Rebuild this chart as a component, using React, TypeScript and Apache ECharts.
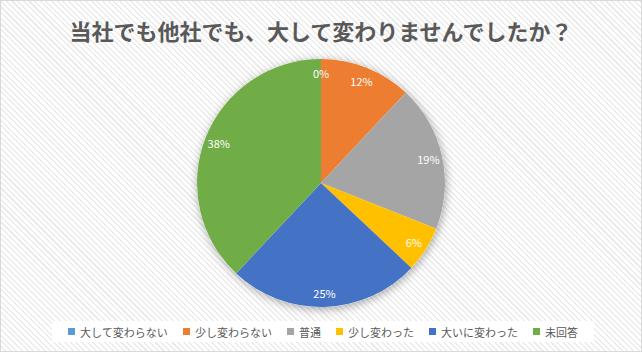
import React, { useEffect, useRef } from "react";
import * as echarts from "echarts";

const titleText = "当社でも他社でも、大して変わりませんでしたか？";
const categories = ["大して変わらない", "少し変わらない", "普通", "少し変わった", "大いに変わった", "未回答"];
const values = [0, 12, 19, 6, 25, 38];
const colors = ["#5B9BD5", "#ED7D31", "#A5A5A5", "#FFC000", "#4472C4", "#70AD47"];

const FONT = "'Noto Sans CJK JP', 'Noto Sans', sans-serif";

export default function App() {
  const ref = useRef<HTMLDivElement>(null);
  useEffect(() => {
    if (!ref.current) return;
    const chart = echarts.init(ref.current, undefined, { renderer: "svg" });
    const data = categories.map((name, i) => ({ name, value: values[i], itemStyle: { color: colors[i] } }));
    const center = ["321", "183"];
    chart.setOption({
      animation: false,
      backgroundColor: "transparent",
      title: {
        text: titleText,
        left: "center",
        top: 14,
        textStyle: { fontFamily: FONT, fontSize: 22, fontWeight: "bold", color: "#595959" },
      },
      legend: {
        data: categories,
        left: 52,
        top: 321,
        padding: [5, 16],
        backgroundColor: "#ffffff",
        itemWidth: 7,
        itemHeight: 7,
        itemGap: 15,
        icon: "rect",
        selectedMode: false,
        textStyle: { fontFamily: FONT, fontSize: 11, color: "#595959" },
      },
      series: [
        {
          type: "pie",
          name: "shadow",
          silent: true,
          center: [321, 183],
          radius: 124,
          label: { show: false },
          labelLine: { show: false },
          data: [{ name: "__bg", value: 1, itemStyle: { color: "#ffffff", shadowBlur: 10, shadowColor: "rgba(0,0,0,0.35)", shadowOffsetX: 1, shadowOffsetY: 2 } }],
          z: 1,
        },
        {
          type: "pie",
          name: "main",
          center: [321, 183],
          radius: 124,
          startAngle: 90,
          clockwise: true,
          label: { show: false },
          labelLine: { show: false },
          itemStyle: { borderWidth: 0 },
          emphasis: { disabled: true },
          data,
          z: 2,
        },
        {
          type: "pie",
          name: "labels",
          silent: true,
          center: [321, 183],
          radius: [90, 124],
          startAngle: 90,
          clockwise: true,
          itemStyle: { color: "transparent" },
          label: {
            show: true,
            position: "inside",
            formatter: (p: any) => p.value + "%",
            color: "#ffffff",
            fontFamily: FONT,
            fontSize: 11,
          },
          labelLine: { show: false },
          data: categories.map((name, i) => ({ name, value: values[i], itemStyle: { color: "transparent" } })),
          z: 3,
        },
      ],
    });
    return () => chart.dispose();
  }, []);
  return (
    <div
      style={{
        position: "fixed",
        left: 0,
        top: 0,
        width: 642,
        height: 352,
        boxSizing: "border-box",
        border: "1px solid #d9d9d9",
        background: "repeating-linear-gradient(45deg, #ffffff 0px, #ffffff 2.5px, #ececec 2.5px, #ececec 4px)",
      }}
    >
      <div ref={ref} style={{ position: "absolute", left: -1, top: -1, width: 642, height: 352 }} />
    </div>
  );
}
